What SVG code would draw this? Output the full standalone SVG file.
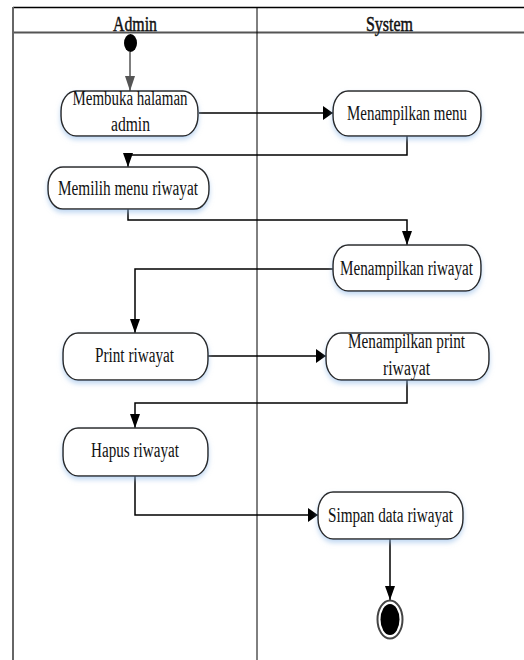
<svg xmlns="http://www.w3.org/2000/svg" width="524" height="660" viewBox="0 0 524 660">
  <style>
    .lane-text { font-family: "Liberation Serif", "Times New Roman", serif; font-size: 22px; fill: #111; stroke: #111; stroke-width: 0.5; }
    .label { font-family: "Liberation Serif", "Times New Roman", serif; font-size: 20px; fill: #111; }
    .action { fill: #fff; stroke: #2a2a2a; stroke-width: 1.5; filter: url(#glow); }
    .flow { fill: none; stroke: #000; stroke-width: 1.5; }
    .flow-start { fill: none; stroke: #555; stroke-width: 1.5; }
  </style>
  <defs>
    <filter id="glow" x="-10%" y="-20%" width="120%" height="150%">
      <feGaussianBlur in="SourceAlpha" stdDeviation="2.5" result="b"/>
      <feOffset in="b" dx="0" dy="3" result="o"/>
      <feFlood flood-color="#8fb8e6" flood-opacity="0.55"/>
      <feComposite in2="o" operator="in" result="s"/>
      <feMerge><feMergeNode in="s"/><feMergeNode in="SourceGraphic"/></feMerge>
    </filter>
    <marker id="ah" markerUnits="userSpaceOnUse" markerWidth="10" markerHeight="14" refX="10" refY="7" orient="auto">
      <path d="M0,0 L10,7 L0,14 Z" fill="#000"/>
    </marker>
    <marker id="av" markerUnits="userSpaceOnUse" markerWidth="14" markerHeight="10" refX="14" refY="5" orient="auto">
      <path d="M0,0 L14,5 L0,10 Z" fill="#000"/>
    </marker>
    <marker id="avg" markerUnits="userSpaceOnUse" markerWidth="15" markerHeight="10" refX="15" refY="5" orient="auto">
      <path d="M0,0 L15,5 L0,10 Z" fill="#555"/>
    </marker>
  </defs>

  <!-- swimlane frame -->
  <g id="lanes">
    <rect x="0" y="0" width="524" height="660" fill="#fff"/>
    <line x1="13" y1="7.5" x2="524" y2="7.5" stroke="#000" stroke-width="1.5"/>
    <line x1="13" y1="32.5" x2="524" y2="32.5" stroke="#555" stroke-width="2"/>
    <line x1="13" y1="7" x2="13" y2="660" stroke="#666" stroke-width="2"/>
    <line x1="257" y1="7" x2="257" y2="660" stroke="#000" stroke-width="1"/>
    <text class="lane-text" x="135" y="30.5" text-anchor="middle" textLength="44" lengthAdjust="spacingAndGlyphs">Admin</text>
    <text class="lane-text" x="389.5" y="30.5" text-anchor="middle" textLength="47" lengthAdjust="spacingAndGlyphs">System</text>
  </g>

  <!-- connectors -->
  <g id="connectors">
    <path class="flow-start" d="M130,52 L130,91" marker-end="url(#avg)"/>
    <path class="flow" d="M199,113 L333,113" marker-end="url(#ah)"/>
    <path class="flow" d="M407,136 L407,155 L128,155 L128,167" marker-end="url(#av)"/>
    <path class="flow" d="M128,209 L128,220 L407,220 L407,245" marker-end="url(#av)"/>
    <path class="flow" d="M333,269 L135,269 L135,333" marker-end="url(#av)"/>
    <path class="flow" d="M208,356 L326,356" marker-end="url(#ah)"/>
    <path class="flow" d="M407,380 L407,403 L135,403 L135,428" marker-end="url(#av)"/>
    <path class="flow" d="M135,476 L135,515 L318,515" marker-end="url(#ah)"/>
    <path class="flow" d="M390,539 L390,600" marker-end="url(#av)"/>
  </g>

  <g id="start">
    <ellipse cx="130.5" cy="43" rx="6.5" ry="9" fill="#000"/>
  </g>

  <g id="membuka-halaman-admin">
    <rect class="action" x="61" y="91" width="137" height="45" rx="15" ry="20"/>
    <text class="label" x="130" y="105" text-anchor="middle" textLength="115" lengthAdjust="spacingAndGlyphs">Membuka halaman</text>
    <text class="label" x="130.5" y="131" text-anchor="middle" textLength="39" lengthAdjust="spacingAndGlyphs">admin</text>
  </g>

  <g id="menampilkan-menu">
    <rect class="action" x="333" y="91" width="148" height="45" rx="15" ry="20"/>
    <text class="label" x="407" y="120" text-anchor="middle" textLength="120" lengthAdjust="spacingAndGlyphs">Menampilkan menu</text>
  </g>

  <g id="memilih-menu-riwayat">
    <rect class="action" x="48" y="167" width="161" height="42" rx="15" ry="19"/>
    <text class="label" x="128" y="195" text-anchor="middle" textLength="140" lengthAdjust="spacingAndGlyphs">Memilih menu riwayat</text>
  </g>

  <g id="menampilkan-riwayat">
    <rect class="action" x="333" y="245" width="148" height="46" rx="15" ry="20"/>
    <text class="label" x="406.5" y="274.5" text-anchor="middle" textLength="133" lengthAdjust="spacingAndGlyphs">Menampilkan riwayat</text>
  </g>

  <g id="print-riwayat">
    <rect class="action" x="63" y="333" width="145" height="47" rx="15" ry="20"/>
    <text class="label" x="134.5" y="362" text-anchor="middle" textLength="79" lengthAdjust="spacingAndGlyphs">Print riwayat</text>
  </g>

  <g id="menampilkan-print-riwayat">
    <rect class="action" x="326" y="333" width="163" height="47" rx="15" ry="20"/>
    <text class="label" x="406.5" y="348" text-anchor="middle" textLength="117" lengthAdjust="spacingAndGlyphs">Menampilkan print</text>
    <text class="label" x="406.5" y="375" text-anchor="middle" textLength="47" lengthAdjust="spacingAndGlyphs">riwayat</text>
  </g>

  <g id="hapus-riwayat">
    <rect class="action" x="63" y="428" width="145" height="48" rx="15" ry="20"/>
    <text class="label" x="135" y="457" text-anchor="middle" textLength="88" lengthAdjust="spacingAndGlyphs">Hapus riwayat</text>
  </g>

  <g id="simpan-data-riwayat">
    <rect class="action" x="318" y="492" width="145" height="47" rx="15" ry="20"/>
    <text class="label" x="390.5" y="522" text-anchor="middle" textLength="125" lengthAdjust="spacingAndGlyphs">Simpan data riwayat</text>
  </g>

  <g id="end">
    <ellipse cx="390" cy="619.5" rx="12.5" ry="19" fill="#fff" stroke="#444" stroke-width="2"/>
    <ellipse cx="390" cy="619.5" rx="9.5" ry="15.5" fill="#000"/>
  </g>
</svg>
